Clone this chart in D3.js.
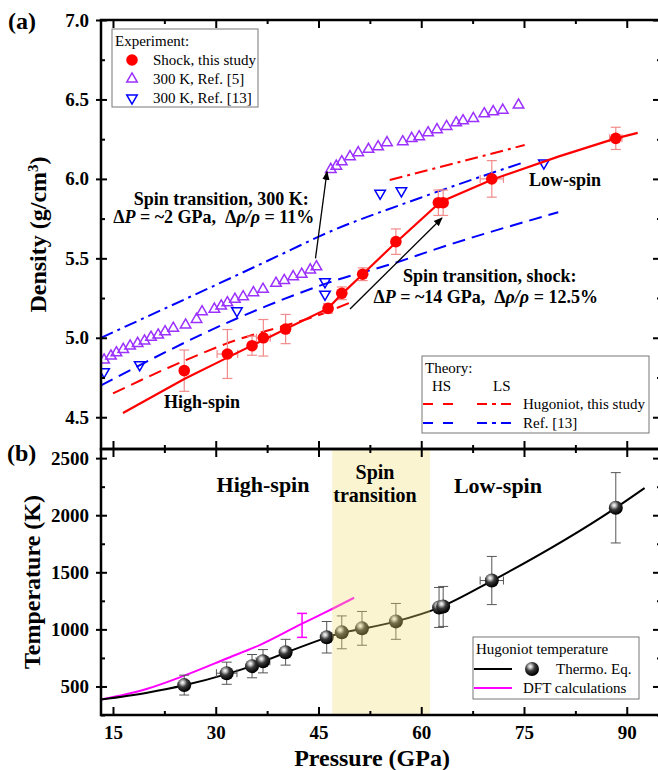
<!DOCTYPE html>
<html lang="en"><head><meta charset="utf-8">
<script src="https://cdn.jsdelivr.net/npm/d3@7"></script>
<style>body{margin:0;background:#fff;}</style>
</head>
<body>
<script>
// ---- panel (a): density ----
// shock data, this study
var shockP      = [25.4, 31.7, 35.3, 36.95, 40.2, 46.4, 48.4, 51.45, 56.3, 62.5, 63.2, 70.3, 88.4];
var shockPErr   = [0, 1.5, 0, 1.0, 0, 0, 0, 0, 0, 0.5, 0.5, 1.7, 0.9];
var shockRho    = [4.793, 4.898, 4.95, 5.0, 5.055, 5.185, 5.28, 5.40, 5.605, 5.85, 5.85, 6.0, 6.255];
var shockRhoErr = [0.13, 0.154, 0.06, 0.115, 0.092, 0.03, 0.04, 0.04, 0.08, 0.08, 0.08, 0.115, 0.07];

// 300 K, Ref. [5]
var ref5P   = [13.7, 14.7, 15.5, 16.5, 17.5, 18.6, 19.6, 20.55, 21.6, 22.6, 23.8, 25.6, 27.2, 28.0, 29.8, 30.8, 31.7, 32.8, 34.0, 35.5, 36.9, 38.8, 40.0, 41.3, 42.55, 43.8, 44.7,
               46.8, 47.6, 48.4, 49.6, 50.8, 52.3, 53.7, 55.0, 57.3, 58.6, 59.7, 61.0, 62.3, 63.7, 65.1, 66.1, 67.6, 69.2, 70.5, 71.9, 74.2];
var ref5Rho = [4.86, 4.885, 4.906, 4.927, 4.948, 4.965, 4.98, 5.003, 5.017, 5.038, 5.06, 5.08, 5.116, 5.164, 5.18, 5.2, 5.22, 5.242, 5.258, 5.284, 5.305, 5.343, 5.36, 5.385, 5.40, 5.427, 5.447,
               6.06, 6.08, 6.108, 6.14, 6.165, 6.186, 6.202, 6.228, 6.234, 6.255, 6.265, 6.29, 6.31, 6.33, 6.353, 6.366, 6.38, 6.41, 6.423, 6.433, 6.465];

// 300 K, Ref. [13]
var ref13P   = [13.7, 18.9, 33.1, 45.95, 45.95, 54.0, 57.1, 77.9];
var ref13Rho = [4.786, 4.83, 5.17, 5.353, 5.274, 5.91, 5.925, 6.10];

// fit through shock data
var fitP   = [16.46, 25.4, 31.7, 36.9, 40.2, 46.4, 48.4, 51.45, 56.3, 62.8, 70.3, 80, 88.4, 91.6];
var fitRho = [4.527, 4.74, 4.875, 4.985, 5.055, 5.185, 5.275, 5.40, 5.60, 5.855, 5.995, 6.14, 6.255, 6.29];

// theory
var hugHsP   = [15.0, 23, 31.35, 46.4, 49.9];
var hugHsRho = [4.65, 4.81, 4.96, 5.165, 5.227];
var hugLsP   = [55.4, 75.1];
var hugLsRho = [5.993, 6.213];
var r13HsP   = [13.25, 33, 46.7, 56.6, 61.7, 80];
var r13HsRho = [4.70, 5.12, 5.35, 5.477, 5.552, 5.79];
var r13LsP   = [13.25, 40.8, 45.2, 59.8, 74.66];
var r13LsRho = [5.0, 5.55, 5.64, 5.88, 6.10];

// ---- panel (b): temperature ----
var tempP    = [25.4, 31.6, 35.3, 36.9, 40.2, 46.2, 48.4, 51.35, 56.3, 62.6, 63.2, 70.3, 88.4];
var tempPErr = [0, 1.5, 0, 1.0, 0, 0, 0, 0, 0, 0.5, 0.5, 1.7, 0];
var tempT    = [512, 616, 678, 721, 800, 931, 974, 1009, 1070, 1192, 1201, 1428, 2065];
var tempTErr = [87, 97, 102, 102, 113, 138, 144, 148, 157, 175, 175, 211, 308];

var thermoP = [13.25, 20, 25.4, 31.7, 35.3, 36.9, 40.2, 46.3, 48.4, 51.4, 56.3, 62.8, 70.3, 88.4, 92.6];
var thermoT = [385, 445, 510, 610, 680, 718, 795, 930, 970, 1005, 1070, 1195, 1425, 2065, 2238];

var dftP = [13.25, 20, 25.2, 31.6, 36.5, 42.6, 46.2, 50.2];
var dftT = [385, 480, 590, 745, 865, 1050, 1155, 1277];
var dftBarP = 42.6, dftBarT = 1035, dftBarErr = 105;

var transition = [47, 61.3];

var xTicks = [15, 30, 45, 60, 75, 90];
var xMinor = [22.5, 37.5, 52.5, 67.5, 82.5];
var aTicks = [4.5, 5.0, 5.5, 6.0, 6.5, 7.0];
var aMinor = [4.75, 5.25, 5.75, 6.25, 6.75];
var bTicks = [500, 1000, 1500, 2000, 2500];
var bMinor = [250, 750, 1250, 1750, 2250];

// ---- layout ----
var width = 658, height = 770;
var left = 101, right = 661;
var aTop = 20, mid = 449, bBot = 715;
var font = "'Liberation Serif', 'Times New Roman', serif";

var x  = d3.scaleLinear().domain([13.25, 95]).range([left, right]);
var yA = d3.scaleLinear().domain([4.3, 7.0]).range([mid, aTop]);
var yB = d3.scaleLinear().domain([250, 2580]).range([bBot, mid]);

var svg = d3.select("body").append("svg")
    .attr("width", width).attr("height", height)
    .style("font-family", font);

var defs = svg.append("defs");
var grad = defs.append("radialGradient").attr("id", "ball")
    .attr("cx", "38%").attr("cy", "32%").attr("r", "65%");
grad.append("stop").attr("offset", "0%").attr("stop-color", "#ffffff");
grad.append("stop").attr("offset", "18%").attr("stop-color", "#c8c8c8");
grad.append("stop").attr("offset", "50%").attr("stop-color", "#3a3a3a");
grad.append("stop").attr("offset", "100%").attr("stop-color", "#000");

defs.append("clipPath").attr("id", "clipA").append("rect")
    .attr("x", left).attr("y", aTop).attr("width", right - left).attr("height", mid - aTop);
defs.append("clipPath").attr("id", "clipB").append("rect")
    .attr("x", left).attr("y", mid).attr("width", right - left).attr("height", bBot - mid);

defs.append("marker").attr("id", "arrow")
    .attr("viewBox", "0 0 10 10").attr("refX", 9).attr("refY", 5)
    .attr("markerWidth", 9).attr("markerHeight", 9).attr("orient", "auto")
    .attr("markerUnits", "userSpaceOnUse")
    .append("path").attr("d", "M0,1 L10,5 L0,9 Z").attr("fill", "#000");

var DASH = "13,7", DASHDOT = "13,5,3,5";

// ================= panel (a) =================
var gA = svg.append("g").attr("clip-path", "url(#clipA)");
var lineA = d3.line().x(d => x(d[0])).y(d => yA(d[1]));
var smoothA = d3.line().curve(d3.curveMonotoneX).x(d => x(d[0])).y(d => yA(d[1]));

gA.append("path").datum(d3.zip(r13LsP, r13LsRho)).attr("d", smoothA)
    .attr("fill", "none").attr("stroke", "#0000ff").attr("stroke-width", 2).attr("stroke-dasharray", DASHDOT);
gA.append("path").datum(d3.zip(r13HsP, r13HsRho)).attr("d", smoothA)
    .attr("fill", "none").attr("stroke", "#0000ff").attr("stroke-width", 2).attr("stroke-dasharray", DASH);
gA.append("path").datum(d3.zip(hugLsP, hugLsRho)).attr("d", smoothA)
    .attr("fill", "none").attr("stroke", "#ff0000").attr("stroke-width", 2).attr("stroke-dasharray", DASHDOT);
gA.append("path").datum(d3.zip(hugHsP, hugHsRho)).attr("d", smoothA)
    .attr("fill", "none").attr("stroke", "#ff0000").attr("stroke-width", 2).attr("stroke-dasharray", DASH);

// ref 5 / ref 13 triangles
var tri = d3.symbol().type(d3.symbolTriangle).size(48);
gA.selectAll(".r5").data(d3.zip(ref5P, ref5Rho)).enter().append("path")
    .attr("d", tri)
    .attr("transform", d => "translate(" + x(d[0]) + "," + yA(d[1]) + ")")
    .attr("fill", "none").attr("stroke", "#9b30ff").attr("stroke-width", 1.5);
gA.selectAll(".r13").data(d3.zip(ref13P, ref13Rho)).enter().append("path")
    .attr("d", tri)
    .attr("transform", d => "translate(" + x(d[0]) + "," + yA(d[1]) + ") rotate(180)")
    .attr("fill", "none").attr("stroke", "#0000ff").attr("stroke-width", 1.5);

// error bars, drawn with scale y
function errorBars(g, data, ys, colour, w) {
    var eb = g.selectAll(null).data(data).enter().append("g")
        .attr("stroke", colour).attr("stroke-width", w);
    eb.append("line").attr("x1", d => x(d.p)).attr("x2", d => x(d.p))
        .attr("y1", d => ys(d.v - d.ve)).attr("y2", d => ys(d.v + d.ve));
    eb.append("line").attr("x1", d => x(d.p) - 5).attr("x2", d => x(d.p) + 5)
        .attr("y1", d => ys(d.v - d.ve)).attr("y2", d => ys(d.v - d.ve));
    eb.append("line").attr("x1", d => x(d.p) - 5).attr("x2", d => x(d.p) + 5)
        .attr("y1", d => ys(d.v + d.ve)).attr("y2", d => ys(d.v + d.ve));
    var xe = eb.filter(d => d.pe > 0);
    xe.append("line").attr("x1", d => x(d.p - d.pe)).attr("x2", d => x(d.p + d.pe))
        .attr("y1", d => ys(d.v)).attr("y2", d => ys(d.v));
    xe.append("line").attr("x1", d => x(d.p - d.pe)).attr("x2", d => x(d.p - d.pe))
        .attr("y1", d => ys(d.v) - 4).attr("y2", d => ys(d.v) + 4);
    xe.append("line").attr("x1", d => x(d.p + d.pe)).attr("x2", d => x(d.p + d.pe))
        .attr("y1", d => ys(d.v) - 4).attr("y2", d => ys(d.v) + 4);
}

var shock = shockP.map((p, i) => ({p: p, pe: shockPErr[i], v: shockRho[i], ve: shockRhoErr[i]}));
errorBars(gA, shock, yA, "#f28b8b", 1.2);

gA.append("path").datum(d3.zip(fitP, fitRho)).attr("d", lineA)
    .attr("fill", "none").attr("stroke", "#ff0000").attr("stroke-width", 2.2);
gA.selectAll(".sh").data(shock).enter().append("circle")
    .attr("cx", d => x(d.p)).attr("cy", d => yA(d.v)).attr("r", 5.8).attr("fill", "#ff0000");

// arrows
function arrow(g, p1, v1, p2, v2, ys) {
    g.append("line").attr("x1", x(p1)).attr("y1", ys(v1)).attr("x2", x(p2)).attr("y2", ys(v2))
        .attr("stroke", "#000").attr("stroke-width", 1.3).attr("marker-end", "url(#arrow)");
}
arrow(svg, 44.56, 5.50, 46.24, 6.045, yA);
arrow(svg, 49.6, 5.181, 63.03, 5.754, yA);

function label(g, p, v, ys, txt, size) {
    return g.append("text").attr("x", x(p)).attr("y", ys(v))
        .attr("text-anchor", "middle").attr("font-size", size).attr("font-weight", "bold").text(txt);
}
function deltaLine(p, v, dp, ratio) {
    var t = svg.append("text").attr("x", x(p)).attr("y", yA(v)).attr("text-anchor", "middle")
        .attr("font-size", 18).attr("font-weight", "bold").style("white-space", "pre");
    t.append("tspan").text("\u0394");
    t.append("tspan").attr("font-style", "italic").text("P");
    t.append("tspan").text(" = ~" + dp + " GPa,  \u0394");
    t.append("tspan").attr("font-style", "italic").text("\u03c1/\u03c1");
    t.append("tspan").text(" = " + ratio);
}
label(svg, 30.8, 5.836, yA, "Spin transition, 300 K:", 18);
deltaLine(29.7, 5.722, "2", "11%");
label(svg, 70.0, 5.351, yA, "Spin transition, shock:", 18);
deltaLine(69.4, 5.219, "14", "12.5%");

label(svg, 28.0, 4.558, yA, "High-spin", 18);
label(svg, 81.0, 5.955, yA, "Low-spin", 18);

// ================= panel (b) =================
var gB = svg.append("g").attr("clip-path", "url(#clipB)");
var smoothB = d3.line().curve(d3.curveMonotoneX).x(d => x(d[0])).y(d => yB(d[1]));

gB.append("path").datum(d3.zip(dftP, dftT)).attr("d", smoothB)
    .attr("fill", "none").attr("stroke", "#ff00ff").attr("stroke-width", 2);
gB.append("path").datum(d3.zip(thermoP, thermoT)).attr("d", smoothB)
    .attr("fill", "none").attr("stroke", "#000").attr("stroke-width", 2);

// DFT error bar
errorBars(gB, [{p: dftBarP, pe: 0, v: dftBarT, ve: dftBarErr}], yB, "#ff00ff", 1.5);

var temps = tempP.map((p, i) => ({p: p, pe: tempPErr[i], v: tempT[i], ve: tempTErr[i]}));
errorBars(gB, temps, yB, "#555", 1);

gB.selectAll(".ball").data(temps).enter().append("circle")
    .attr("cx", d => x(d.p)).attr("cy", d => yB(d.v)).attr("r", 7).attr("fill", "url(#ball)");

// shaded spin transition band on top
gB.append("rect").attr("x", x(transition[0])).attr("width", x(transition[1]) - x(transition[0]))
    .attr("y", mid).attr("height", bBot - mid)
    .attr("fill", "rgb(240,222,115)").attr("fill-opacity", 0.33);

label(svg, 36.9, 2203, yB, "High-spin", 22);
label(svg, 53.25, 2317, yB, "Spin", 20);
label(svg, 53.25, 2116, yB, "transition", 20);
label(svg, 71.2, 2195, yB, "Low-spin", 22);

// ================= axes =================
function styleAxis(g) {
    g.select(".domain").remove();
    g.selectAll(".tick line").attr("stroke", "#000").attr("stroke-width", 2);
    g.selectAll("text").attr("font-family", font).attr("font-size", 19)
        .attr("font-weight", "bold").attr("fill", "#000");
}
function frame(y, withX, ticks, minor, fmt) {
    var r = y.range();
    // left axis: labelled, major ticks crossing the frame
    svg.append("g").attr("transform", "translate(" + left + ",0)")
        .call(d3.axisLeft(y).tickValues(ticks).tickSize(5).tickPadding(7).tickFormat(fmt)).call(styleAxis);
    svg.append("g").attr("transform", "translate(" + left + ",0)")
        .call(d3.axisLeft(y).tickValues(ticks).tickSize(-6).tickFormat("")).call(styleAxis);
    svg.append("g").attr("transform", "translate(" + left + ",0)")
        .call(d3.axisLeft(y).tickValues(minor).tickSize(-4).tickFormat("")).call(styleAxis);
    // right axis
    svg.append("g").attr("transform", "translate(" + right + ",0)")
        .call(d3.axisRight(y).tickValues(ticks).tickSize(-8).tickFormat("")).call(styleAxis);
    svg.append("g").attr("transform", "translate(" + right + ",0)")
        .call(d3.axisRight(y).tickValues(minor).tickSize(-4).tickFormat("")).call(styleAxis);
    // top / bottom ticks
    svg.append("g").attr("transform", "translate(0," + r[1] + ")")
        .call(d3.axisTop(x).tickValues(xTicks).tickSize(-8).tickFormat("")).call(styleAxis);
    svg.append("g").attr("transform", "translate(0," + r[1] + ")")
        .call(d3.axisTop(x).tickValues(xMinor).tickSize(-4).tickFormat("")).call(styleAxis);
    svg.append("g").attr("transform", "translate(0," + r[0] + ")")
        .call(d3.axisBottom(x).tickValues(xTicks).tickSize(-8).tickPadding(11)
            .tickFormat(withX ? d3.format("d") : "")).call(styleAxis);
    svg.append("g").attr("transform", "translate(0," + r[0] + ")")
        .call(d3.axisBottom(x).tickValues(xMinor).tickSize(-4).tickFormat("")).call(styleAxis);
    svg.append("rect").attr("x", left).attr("y", r[1]).attr("width", right - left).attr("height", r[0] - r[1])
        .attr("fill", "none").attr("stroke", "#000").attr("stroke-width", 2.5);
}
frame(yA, false, aTicks, aMinor, d3.format(".1f"));
frame(yB, true, bTicks, bMinor, d3.format("d"));

// axis titles
var ta = svg.append("text").attr("transform", "translate(46," + (aTop + mid) / 2 + ") rotate(-90)")
    .attr("text-anchor", "middle").attr("font-size", 24).attr("font-weight", "bold");
ta.append("tspan").text("Density (g/cm");
ta.append("tspan").attr("font-size", 15).attr("baseline-shift", "super").text("3");
ta.append("tspan").text(")");
svg.append("text").attr("transform", "translate(40," + (mid + bBot) / 2 + ") rotate(-90)")
    .attr("text-anchor", "middle").attr("font-size", 24).attr("font-weight", "bold").text("Temperature (K)");
svg.append("text").attr("x", 372).attr("y", 766)
    .attr("text-anchor", "middle").attr("font-size", 24).attr("font-weight", "bold").text("Pressure (GPa)");

svg.append("text").attr("x", 8).attr("y", 29).attr("font-size", 24).attr("font-weight", "bold").text("(a)");
svg.append("text").attr("x", 7).attr("y", 461).attr("font-size", 24).attr("font-weight", "bold").text("(b)");

// ================= legends =================
var lg = svg.append("g").attr("font-size", 15);
lg.append("rect").attr("x", 112).attr("y", 29).attr("width", 146).attr("height", 78)
    .attr("fill", "#fff").attr("stroke", "#777").attr("stroke-width", 1);
lg.append("text").attr("x", 115).attr("y", 46).text("Experiment:");
lg.append("circle").attr("cx", 132).attr("cy", 60).attr("r", 5.8).attr("fill", "#ff0000");
lg.append("text").attr("x", 153).attr("y", 65).text("Shock, this study");
lg.append("path").attr("d", tri).attr("transform", "translate(132,79)")
    .attr("fill", "none").attr("stroke", "#9b30ff").attr("stroke-width", 1.5);
lg.append("text").attr("x", 153).attr("y", 84).text("300 K, Ref. [5]");
lg.append("path").attr("d", tri).attr("transform", "translate(132,98) rotate(180)")
    .attr("fill", "none").attr("stroke", "#0000ff").attr("stroke-width", 1.5);
lg.append("text").attr("x", 153).attr("y", 103).text("300 K, Ref. [13]");

var lt = svg.append("g").attr("font-size", 15);
lt.append("rect").attr("x", 422).attr("y", 356).attr("width", 227).attr("height", 77)
    .attr("fill", "#fff").attr("stroke", "#777").attr("stroke-width", 1);
lt.append("text").attr("x", 425).attr("y", 373).text("Theory:");
lt.append("text").attr("x", 432).attr("y", 391).text("HS");
lt.append("text").attr("x", 493).attr("y", 391).text("LS");
[["#ff0000", 404, "Hugoniot, this study"], ["#0000ff", 423, "Ref. [13]"]].forEach(function(r) {
    lt.append("line").attr("x1", 423).attr("x2", 455).attr("y1", r[1]).attr("y2", r[1])
        .attr("stroke", r[0]).attr("stroke-width", 2).attr("stroke-dasharray", "10,10");
    lt.append("line").attr("x1", 477).attr("x2", 514).attr("y1", r[1]).attr("y2", r[1])
        .attr("stroke", r[0]).attr("stroke-width", 2).attr("stroke-dasharray", "10,5,4,5");
    lt.append("text").attr("x", 523).attr("y", r[1] + 5).text(r[2]);
});

var lb = svg.append("g").attr("font-size", 15);
lb.append("rect").attr("x", 473).attr("y", 637).attr("width", 166).attr("height", 62)
    .attr("fill", "#fff").attr("stroke", "#777").attr("stroke-width", 1);
lb.append("text").attr("x", 476).attr("y", 654).text("Hugoniot temperature");
lb.append("line").attr("x1", 474).attr("x2", 512).attr("y1", 669).attr("y2", 669)
    .attr("stroke", "#000").attr("stroke-width", 2);
lb.append("circle").attr("cx", 532).attr("cy", 669).attr("r", 7).attr("fill", "url(#ball)");
lb.append("text").attr("x", 556).attr("y", 674).text("Thermo. Eq.");
lb.append("line").attr("x1", 474).attr("x2", 512).attr("y1", 688).attr("y2", 688)
    .attr("stroke", "#ff00ff").attr("stroke-width", 2);
lb.append("text").attr("x", 523).attr("y", 693).text("DFT calculations");
</script>
</body></html>
